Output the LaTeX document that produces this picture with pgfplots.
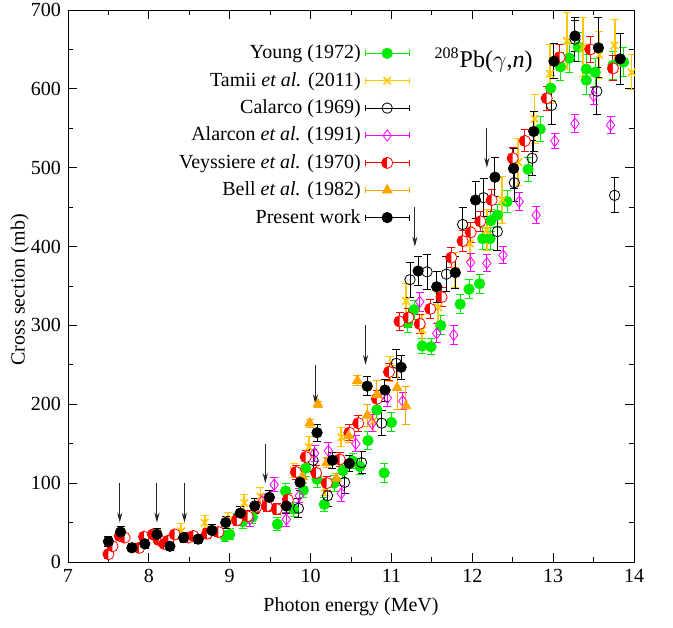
\documentclass[border=0pt]{standalone}
\usepackage{fontspec}
\setmainfont{Liberation Serif}
\usepackage{pgfplots}
\pgfplotsset{compat=1.18}
\usetikzlibrary{arrows.meta}
\definecolor{cgreen}{RGB}{0,235,0}
\definecolor{cgold}{RGB}{255,200,0}
\definecolor{cmag}{RGB}{255,0,255}
\definecolor{cred}{RGB}{255,0,0}
\definecolor{corange}{RGB}{255,165,0}
\begin{document}
\begin{tikzpicture}
\begin{axis}[
  at={(0,0)}, anchor=south west,
  scale only axis, width=283pt, height=276pt,
  xmin=7, xmax=14, ymin=0, ymax=700,
  xtick={7,...,14}, ytick={0,100,...,700},
  minor xtick={7.5,8.5,...,13.5}, minor ytick={50,150,...,650},
  tick align=inside, major tick length=4.5pt, minor tick length=2.5pt,
  tick style={black, line width=0.4pt},
  axis line style={line width=0.5pt},
  /pgf/number format/assume math mode=true,
  ticklabel style={font=\fontsize{10}{12}\selectfont},
  xlabel={Photon energy (MeV)}, ylabel={Cross section (mb)},
  label style={font=\fontsize{10}{12}\selectfont},
  xlabel style={at={(axis description cs:0.5,-0.0815)}, anchor=center},
  ylabel style={at={(axis description cs:-0.085,0.493)}, anchor=center},
  legend plot pos=right,
  legend cell align=right,
  legend style={at={(axis description cs:0.615,0.952)}, anchor=north east, draw=none, fill=none, font=\fontsize{10}{12}\selectfont, row sep=1.25pt},
  legend image code/.code={
    \draw[#1,mark=none,line width=0.5pt] (0pt,0pt) -- (22pt,0pt);
    \draw[#1,mark=none,line width=0.5pt] (0pt,-1.5pt) -- (0pt,1.5pt);
    \draw[#1,mark=none,line width=0.5pt] (22pt,-1.5pt) -- (22pt,1.5pt);
    \draw[#1] plot coordinates {(11pt,0pt)};
  },
  error bars/y dir=both, error bars/y explicit,
  error bars/error mark options={rotate=90, mark size=2pt, line width=0.5pt},
  error bars/error bar style={line width=0.5pt},
]
% Young (1972)
\addplot[only marks, mark=*, color=cgreen, mark size=2.6pt] coordinates {
(8.94,33)+-(0,7) (9.00,35)+-(0,7) (9.09,54)+-(0,8) (9.16,51)+-(0,8) (9.28,57)+-(0,8)
(9.59,48)+-(0,8) (9.69,90)+-(0,9) (9.79,67)+-(0,9) (9.91,91)+-(0,9) (9.94,119)+-(0,10)
(10.08,105)+-(0,10) (10.17,73)+-(0,9) (10.29,100)+-(0,10) (10.40,116)+-(0,10) (10.52,128)+-(0,10)
(10.61,121)+-(0,10) (10.71,154)+-(0,11) (10.82,193)+-(0,11) (10.91,113)+-(0,12) (11.00,177)+-(0,12)
(11.20,303)+-(0,12) (11.28,320)+-(0,12) (11.38,274)+-(0,10) (11.49,273)+-(0,10) (11.61,300)+-(0,12)
(11.85,327)+-(0,12) (11.96,346)+-(0,12) (12.09,353)+-(0,12) (12.13,410)+-(0,14) (12.22,410)+-(0,14)
(12.23,433)+-(0,14) (12.31,440)+-(0,14) (12.43,457)+-(0,14) (12.69,498)+-(0,15) (12.84,549)+-(0,16)
(12.97,601)+-(0,16) (13.09,628)+-(0,18) (13.20,639)+-(0,18) (13.31,653)+-(0,18) (13.41,611)+-(0,18)
(13.41,625)+-(0,18) (13.52,621)+-(0,18) (13.74,630)+-(0,18) (13.87,634)+-(0,18)
};
\addlegendentry{Young (1972)}
% Tamii et al. (2011)
\addplot[only marks, mark=x, color=cgold, mark size=2.6pt, line width=0.8pt,
  error bars/error bar style={line width=0.9pt}] coordinates {
(8.10,33)+-(0,8) (8.40,39)+-(0,10) (8.69,50)+-(0,9) (8.98,53)+-(0,10) (9.18,75)+-(0,11)
(9.38,83)+-(0,11) (9.79,116)+-(0,9) (9.98,146)+-(0,13) (10.18,94)+-(0,10) (10.38,158)+-(0,12)
(10.77,178)+-(0,12) (10.98,245)+-(0,16) (11.18,331)+-(0,22) (11.38,294)+-(0,20) (11.58,323)+-(0,19)
(11.79,370)+-(0,22) (11.97,404)+-(0,22) (12.18,421)+-(0,26) (12.37,459)+-(0,30) (12.57,507)+-(0,30)
(12.77,562)+-(0,31) (12.96,619)+-(0,37) (13.17,661)+-(0,36) (13.37,653)+-(0,37) (13.57,643)+-(0,30)
(13.76,655)+-(0,33) (13.97,621)+-(0,22)
};
\addlegendentry{Tamii \textit{et al.} (2011)}
% Calarco (1969)
\addplot[only marks, mark=o, color=black, mark size=2.6pt] coordinates {
(9.85,68)+-(0,12) (10.03,129)+-(0,14) (10.21,84)+-(0,14) (10.42,101)+-(0,14) (10.63,126)+-(0,14)
(10.88,176)+-(0,16) (11.06,252)+-(0,18) (11.23,358)+-(0,22) (11.44,368)+-(0,22) (11.68,365)+-(0,22)
(11.88,428)+-(0,22) (12.14,462)+-(0,24) (12.31,419)+-(0,24) (12.52,481)+-(0,24) (12.74,512)+-(0,22)
(12.98,579)+-(0,24) (13.27,663)+-(0,28) (13.54,597)+-(0,30) (13.76,465)+-(0,22)
};
\addlegendentry{Calarco (1969)}
% Alarcon et al. (1991)
\addplot[only marks, mark=diamond, color=cmag, mark size=2.8pt] coordinates {
(9.25,54)+-(0,9) (9.40,77)+-(0,9) (9.55,98)+-(0,9) (9.70,54)+-(0,9) (9.86,84)+-(0,9)
(10.05,138)+-(0,10) (10.22,141)+-(0,10) (10.38,87)+-(0,10) (10.56,150)+-(0,10) (10.76,176)+-(0,11)
(10.95,208)+-(0,11) (11.14,204)+-(0,11) (11.35,330)+-(0,12) (11.56,290)+-(0,12) (11.77,288)+-(0,12)
(11.98,380)+-(0,11) (12.18,379)+-(0,11) (12.38,389)+-(0,11) (12.58,457)+-(0,11) (12.79,440)+-(0,11)
(13.02,534)+-(0,10) (13.27,556)+-(0,11) (13.50,591)+-(0,11) (13.71,554)+-(0,11)
};
\addlegendentry{Alarcon \textit{et al.} (1991)}
% Veyssiere et al. (1970)
\addplot[only marks, mark=halfcircle*, color=cred, mark size=2.8pt,
  mark options={rotate=90, fill=cred, draw=cred}] coordinates {
(7.50,10)+-(0,5) (7.55,20)+-(0,5) (7.64,33)+-(0,5) (7.70,31)+-(0,5) (7.88,18)+-(0,5)
(7.94,32)+-(0,5) (8.05,35)+-(0,5) (8.12,28)+-(0,5) (8.19,23)+-(0,5) (8.24,27)+-(0,5)
(8.32,35)+-(0,5) (8.49,31)+-(0,5) (8.55,33)+-(0,5) (8.72,36)+-(0,6) (8.86,38)+-(0,6)
(9.09,53)+-(0,7) (9.22,58)+-(0,7) (9.33,70)+-(0,7) (9.46,71)+-(0,7) (9.58,67)+-(0,7)
(9.72,79)+-(0,8) (9.82,114)+-(0,9) (9.94,133)+-(0,9) (10.07,113)+-(0,9) (10.20,100)+-(0,9)
(10.36,130)+-(0,9) (10.48,164)+-(0,10) (10.59,176)+-(0,10) (10.82,207)+-(0,10) (10.97,241)+-(0,11)
(11.10,305)+-(0,12) (11.21,310)+-(0,12) (11.35,302)+-(0,12) (11.48,321)+-(0,12) (11.62,336)+-(0,12)
(11.74,386)+-(0,13) (11.88,407)+-(0,13) (11.98,418)+-(0,13) (12.10,432)+-(0,13) (12.24,459)+-(0,14)
(12.50,512)+-(0,14) (12.65,534)+-(0,14) (12.92,588)+-(0,15) (13.08,640)+-(0,16) (13.46,650)+-(0,16)
(13.74,626)+-(0,16)
};
\addlegendentry{Veyssiere \textit{et al.} (1970)}
% Bell et al. (1982)
\addplot[only marks, mark=triangle*, color=corange, mark size=2.8pt] coordinates {
(9.90,108)+-(0,8) (9.99,176)+-(0,5) (10.09,200)+-(0,4) (10.20,126)+-(0,6) (10.32,106)+-(0,6)
(10.47,160)+-(0,8) (10.58,230)+-(0,6) (10.70,186)+-(0,14) (10.82,212)+-(0,18) (11.07,221)+-(0,28)
(11.18,198)+-(0,24)
};
\addlegendentry{Bell \textit{et al.} (1982)}
% Present work
\addplot[only marks, mark=*, color=black, mark size=2.6pt] coordinates {
(7.50,26)+-(0,6) (7.65,38)+-(0,7) (7.79,18)+-(0,5) (7.95,23)+-(0,6) (8.10,35)+-(0,7)
(8.26,20)+-(0,6) (8.43,31)+-(0,6) (8.61,29)+-(0,6) (8.78,40)+-(0,7) (8.95,50)+-(0,8)
(9.13,62)+-(0,8) (9.31,71)+-(0,9) (9.49,82)+-(0,9) (9.70,71)+-(0,9) (9.87,101)+-(0,10)
(10.08,164)+-(0,11) (10.27,129)+-(0,10) (10.48,125)+-(0,10) (10.70,223)+-(0,12) (10.92,218)+-(0,14)
(11.12,247)+-(0,15) (11.33,369)+-(0,18) (11.56,349)+-(0,20) (11.79,367)+-(0,20) (12.04,459)+-(0,24)
(12.28,488)+-(0,25) (12.51,499)+-(0,25) (12.76,546)+-(0,25) (13.01,635)+-(0,22) (13.27,667)+-(0,20)
(13.56,652)+-(0,38) (13.83,638)+-(0,32)
};
\addlegendentry{Present work}
% arrows
\draw[-{Stealth[length=5pt,width=2.6pt]}, line width=0.5pt, black!85] (axis cs:7.64,100) -- (axis cs:7.64,50);
\draw[-{Stealth[length=5pt,width=2.6pt]}, line width=0.5pt, black!85] (axis cs:8.10,100) -- (axis cs:8.10,50);
\draw[-{Stealth[length=5pt,width=2.6pt]}, line width=0.5pt, black!85] (axis cs:8.44,100) -- (axis cs:8.44,50);
\draw[-{Stealth[length=5pt,width=2.6pt]}, line width=0.5pt, black!85] (axis cs:9.44,150) -- (axis cs:9.44,100);
\draw[-{Stealth[length=5pt,width=2.6pt]}, line width=0.5pt, black!85] (axis cs:10.06,250) -- (axis cs:10.06,200);
\draw[-{Stealth[length=5pt,width=2.6pt]}, line width=0.5pt, black!85] (axis cs:10.68,300) -- (axis cs:10.68,250);
\draw[-{Stealth[length=5pt,width=2.6pt]}, line width=0.5pt, black!85] (axis cs:11.29,450) -- (axis cs:11.29,400);
\draw[-{Stealth[length=5pt,width=2.6pt]}, line width=0.5pt, black!85] (axis cs:12.18,550) -- (axis cs:12.18,500);
\node[font=\fontsize{12}{14}\selectfont] at (axis cs:12.14,636) {\textsuperscript{208}Pb($\gamma$,\textit{n})};
\end{axis}
\pgfresetboundingbox
\path[use as bounding box] (-34pt,-32.5pt) rectangle (302.5pt,281pt);
\end{tikzpicture}
\end{document}
